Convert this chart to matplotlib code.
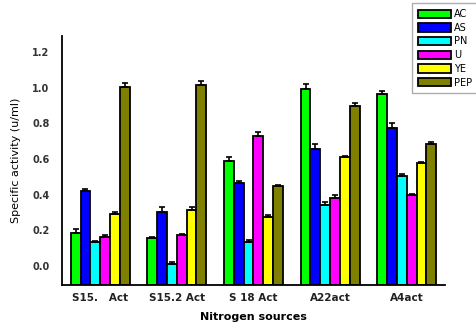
import matplotlib.pyplot as plt
import numpy as np

sources = ["S15.   Act", "S15.2 Act", "S 18 Act", "A22act", "A4act"]
series = ["AC", "AS", "PN", "U", "YE", "PEP"]
colors = ["#00ff00", "#0000ff", "#00ffff", "#ff00ff", "#ffff00", "#7f7f00"]

ac = [0.185, 0.157, 0.588, 0.995, 0.967]
as_ = [0.42, 0.30, 0.466, 0.659, 0.776]
pn = [0.137, 0.01, 0.137, 0.344, 0.503]
u = [0.16, 0.175, 0.732, 0.381, 0.40]
ye = [0.29, 0.315, 0.274, 0.61, 0.578]
pep = [1.005, 1.014, 0.447, 0.897, 0.682]
values = [ac, as_, pn, u, ye, pep]

ac_err = [0.02, 0.005, 0.025, 0.025, 0.015]
as_err = [0.012, 0.03, 0.01, 0.025, 0.025]
pn_err = [0.005, 0.015, 0.01, 0.015, 0.015]
u_err = [0.012, 0.005, 0.02, 0.015, 0.005]
ye_err = [0.015, 0.015, 0.01, 0.005, 0.005]
pep_err = [0.02, 0.025, 0.005, 0.015, 0.015]
errors = [ac_err, as_err, pn_err, u_err, ye_err, pep_err]

fig = plt.figure(figsize=(4.76, 3.25), dpi=100)
ax = fig.add_axes([0.130, 0.123, 0.805, 0.766])

x = np.arange(len(sources))
width = 0.128
ymin = -0.107
for i, (name, vals, errs, c) in enumerate(zip(series, values, errors, colors)):
    pos = x + (i - 2.5) * width
    heights = np.array(vals) - ymin
    ax.bar(pos, heights, width, bottom=ymin, color=c, edgecolor="black",
           linewidth=1.3, label=name, zorder=2)
    ax.errorbar(pos, vals, yerr=[np.zeros(len(errs)), errs], fmt="none",
                ecolor="black", elinewidth=1.2, capsize=2.5, capthick=1.2,
                zorder=3)

ax.set_xlim(-0.5, 4.5)
ax.set_ylim(ymin, 1.29)
ax.set_yticks([0.0, 0.2, 0.4, 0.6, 0.8, 1.0, 1.2])
ax.set_yticklabels(["0.0", "0.2", "0.4", "0.6", "0.8", "1.0", "1.2"],
                   fontsize=7, fontweight="bold", color="#333333")
ax.set_xticks(x)
ax.set_xticklabels(sources, fontsize=7.5, fontweight="bold", color="#222222")
ax.tick_params(axis="both", length=0, pad=6)
ax.tick_params(axis="y", pad=9)
ax.spines["top"].set_visible(False)
ax.spines["right"].set_visible(False)
ax.spines["left"].set_linewidth(1.3)
ax.spines["bottom"].set_linewidth(1.3)

ax.set_ylabel("Specific activity (u/ml)", fontsize=8, labelpad=8)
ax.set_xlabel("Nitrogen sources", fontsize=8, fontweight="bold", labelpad=6)

fig.legend(loc="upper left", bbox_to_anchor=(0.866, 0.99), fontsize=7,
           frameon=True, fancybox=False, edgecolor="#999999",
           handlelength=3.4, handleheight=0.95, handletextpad=0.3,
           labelspacing=0.38, borderpad=0.6, borderaxespad=0.0)

fig.savefig("out.png", dpi=100)
